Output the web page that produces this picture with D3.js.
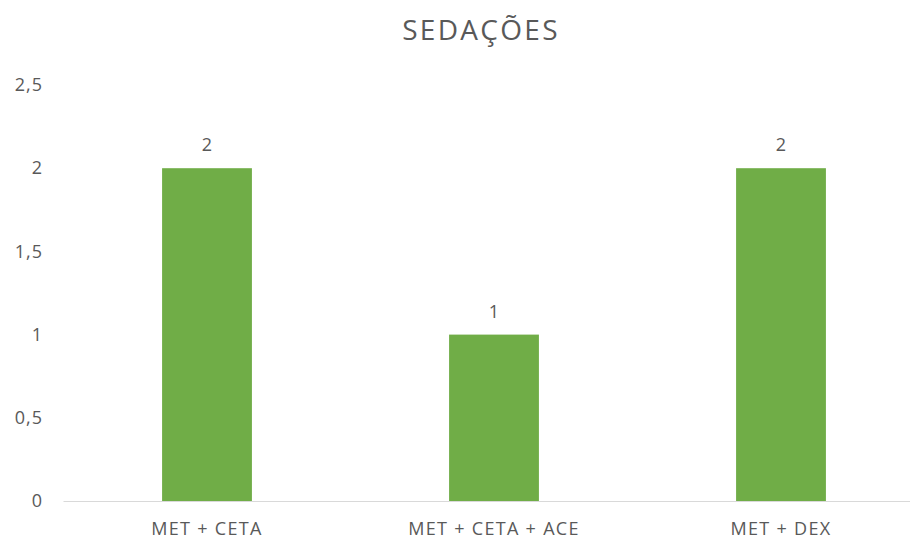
<!DOCTYPE html>
<html>
<head>
<meta charset="utf-8">
<script src="https://cdn.jsdelivr.net/npm/d3@7"></script>
<style>
	body { margin: 0; background: #fff; }
	text { font-family: "Open Sans", sans-serif; fill: #595959; }
</style>
</head>
<body>
<script>
	var width = 910;
	var height = 541;

	// data
	var categories = ["MET + CETA", "MET + CETA + ACE", "MET + DEX"];
	var values = [2, 1, 2];
	var yTicks = [0, 0.5, 1, 1.5, 2, 2.5];
	var title = "SEDAÇÕES";

	var svg = d3.select("body")
		.append("svg")
		.attr("width", width)
		.attr("height", height);

	// scales
	var xScale = d3.scaleBand()
		.domain(categories)
		.range([63.5, 924.5]);
	var barWidth = xScale.bandwidth() * 0.313;

	var yScale = d3.scaleLinear()
		.domain([0, 2.5])
		.range([501, 85]);

	// title
	svg.append("text")
		.attr("x", 481)
		.attr("y", 40)
		.attr("text-anchor", "middle")
		.style("font-size", "28px")
		.style("letter-spacing", "2.3px")
		.text(title);

	// y axis labels (no line)
	var yAxis = svg.append("g")
		.attr("transform", "translate(43,0)")
		.call(d3.axisLeft(yScale).tickValues(yTicks).tickSize(0).tickPadding(0)
			.tickFormat(d => String(d).replace(".", ",")));
	yAxis.select(".domain").remove();
	yAxis.selectAll("text")
		.style("font-size", "18px")
		.style("letter-spacing", "1px")
		.attr("fill", "#595959");

	// bars
	svg.selectAll("rect.bar")
		.data(values)
		.enter()
		.append("rect")
		.attr("class", "bar")
		.attr("x", (d, i) => xScale(categories[i]) + (xScale.bandwidth() - barWidth) / 2)
		.attr("y", d => yScale(d))
		.attr("width", barWidth)
		.attr("height", d => yScale(0) - yScale(d))
		.style("fill", "#70AD47");

	// baseline
	svg.append("line")
		.attr("x1", xScale.range()[0])
		.attr("x2", xScale.range()[1])
		.attr("y1", yScale(0) + 0.5)
		.attr("y2", yScale(0) + 0.5)
		.style("stroke", "#d9d9d9")
		.style("stroke-width", 1);

	// value labels
	svg.selectAll("text.val")
		.data(values)
		.enter()
		.append("text")
		.attr("class", "val")
		.attr("x", (d, i) => xScale(categories[i]) + xScale.bandwidth() / 2)
		.attr("y", d => yScale(d) - 17)
		.attr("text-anchor", "middle")
		.style("font-size", "18px")
		.text(d => d);

	// category labels
	svg.selectAll("text.cat")
		.data(categories)
		.enter()
		.append("text")
		.attr("class", "cat")
		.attr("x", d => xScale(d) + xScale.bandwidth() / 2)
		.attr("y", 535)
		.attr("text-anchor", "middle")
		.style("font-size", "18px")
		.style("letter-spacing", "1.3px")
		.text(d => d);
</script>
</body>
</html>
